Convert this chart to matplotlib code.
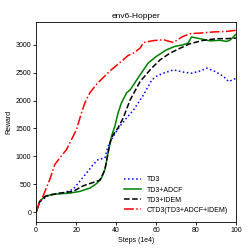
import numpy as np
import matplotlib
matplotlib.use("Agg")
import matplotlib.pyplot as plt

plt.rcParams["font.family"] = ["Liberation Sans", "DejaVu Sans"]

# curves (steps in 1e4, reward)
td3_x = [0, 1.5, 3.4, 6.8, 13.5, 18.5, 21.8, 25.2, 28.5, 31, 34.4, 36, 38.6, 41.9, 45.3,
         48.7, 53.7, 57.9, 60.4, 63.7, 68.7, 73.7, 77.9, 82, 85.4, 89.6, 93.8, 96.3, 100]
td3_y = [0, 170, 230, 310, 340, 410, 550, 700, 850, 940, 970, 1180, 1360, 1540, 1690,
         1830, 2100, 2370, 2440, 2490, 2550, 2510, 2490, 2530, 2580, 2520, 2430, 2340, 2400]

adcf_x = [0, 1.8, 4.3, 8.5, 16.8, 21.8, 26.9, 30.2, 32.7, 34.4, 36, 37.7, 39.4, 41, 42.7,
          45.3, 47, 52, 56, 60.1, 65.2, 69.3, 73.5, 76, 77.7, 81.9, 86.9, 91.9, 95.2, 96.9, 100]
adcf_y = [0, 190, 280, 320, 340, 370, 430, 510, 610, 760, 1060, 1360, 1540, 1780, 1960,
          2140, 2190, 2460, 2670, 2790, 2910, 2970, 3000, 3030, 3140, 3110, 3070, 3080, 3060,
          3080, 3190]

idem_x = [0, 1.8, 5, 11.8, 18.5, 23.5, 28.5, 31.9, 34.4, 36.9, 38.6, 41, 43.6, 47, 52, 57,
          62, 67, 72.1, 77, 83.7, 90.4, 95.4, 100]
idem_y = [0, 190, 290, 340, 370, 470, 530, 570, 760, 1240, 1390, 1510, 1690, 2010, 2340,
          2550, 2730, 2850, 2940, 3020, 3080, 3110, 3110, 3120]

ctd3_x = [0, 1.5, 3.4, 6.8, 9.3, 11.8, 15.2, 17.7, 20.2, 22.7, 24.4, 26.9, 30.2, 32.7, 36.9,
          41.9, 46.1, 48.7, 52, 53.7, 58.7, 63.7, 68.7, 72.9, 77, 82, 88.7, 95.4, 100]
ctd3_y = [0, 150, 280, 580, 850, 970, 1120, 1300, 1480, 1780, 1960, 2140, 2290, 2380, 2530,
          2680, 2810, 2850, 2940, 3040, 3075, 3090, 3040, 3140, 3200, 3210, 3230, 3240, 3260]

fig = plt.figure(figsize=(2.49, 2.49), dpi=100)
ax = fig.add_axes([0.145, 0.108, 0.803, 0.804])

ax.plot(td3_x, td3_y, color="blue", linestyle=":", linewidth=1.1, label="TD3")
ax.plot(adcf_x, adcf_y, color="green", linestyle="-", linewidth=1.1, label="TD3+ADCF")
ax.plot(idem_x, idem_y, color="black", linestyle="--", linewidth=1.1, label="TD3+IDEM")
ax.plot(ctd3_x, ctd3_y, color="red", linestyle="-.", linewidth=1.1,
        label="CTD3(TD3+ADCF+IDEM)")

ax.set_xlim(0, 100)
ax.set_ylim(-180, 3410)
ax.set_xticks([0, 20, 40, 60, 80, 100])
ax.set_yticks([0, 500, 1000, 1500, 2000, 2500, 3000])
ax.tick_params(labelsize=5, length=2, width=0.6, pad=1.5)
for s in ax.spines.values():
    s.set_linewidth(0.6)

ax.set_title("env6-Hopper", fontsize=6, pad=3)
ax.set_xlabel("Steps (1e4)", fontsize=5, labelpad=2)
ax.set_ylabel("Reward", fontsize=5, labelpad=2)
ax.legend(loc="lower right", fontsize=5, frameon=False, handlelength=2.5,
          labelspacing=0.45, borderaxespad=0.8)

fig.savefig("out.png", dpi=100)
